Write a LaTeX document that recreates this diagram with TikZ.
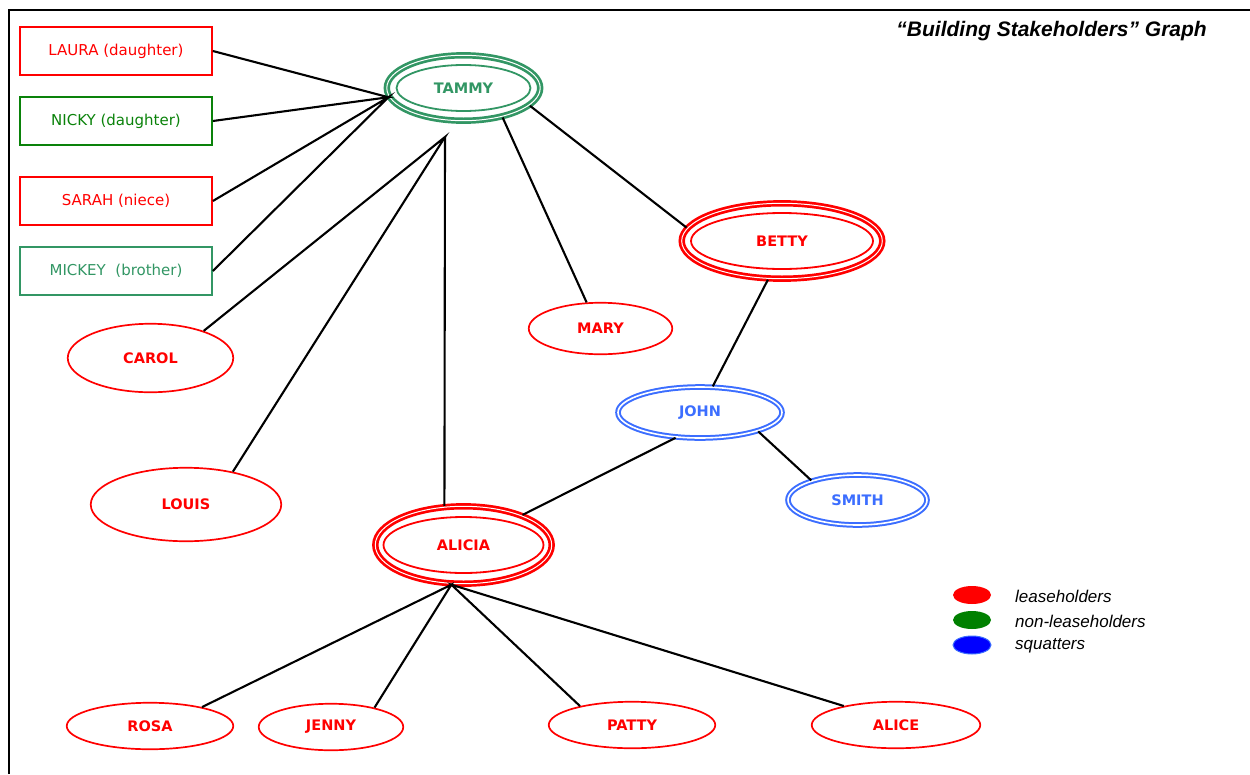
\documentclass[tikz,border=0pt]{standalone}
\usepackage{fontspec}
\setmainfont{DejaVu Sans}
\newfontfamily\arialfont{Liberation Sans}
\usetikzlibrary{shapes.geometric}
\definecolor{sgreen}{RGB}{50,150,100}
\definecolor{dgreen}{RGB}{10,130,10}
\definecolor{sblue}{RGB}{60,110,255}

\begin{document}
\begin{tikzpicture}[x=1pt,y=-1pt,inner sep=0pt,
  box/.style={draw=#1,text=#1,line width=1.7,minimum width=192,minimum height=48,font=\fontsize{15}{18}\selectfont},
  one/.style={ellipse,draw=red,text=red,line width=1.7,font=\bfseries\fontsize{14.5}{17}\selectfont},
  two/.style={ellipse,draw=#1,text=#1,double=white,double distance=1.6,line width=2,font=\bfseries\fontsize{14.5}{17}\selectfont},
  three/.style={ellipse,draw=#1,text=#1,double=white,double distance=1,line width=2.7,font=\bfseries\fontsize{14.5}{17}\selectfont},
  ring/.style={ellipse,draw=#1,line width=1.8},
  dot/.style={ellipse,minimum width=38,minimum height=18},
  key/.style={anchor=west,font=\arialfont\itshape\fontsize{17}{20}\selectfont},
  link/.style={line width=2.1}]
\useasboundingbox (0,0) rectangle (1250,774);
\draw[line width=2.6] (9,774) -- (9,10) -- (1250,10);

\node[anchor=east,font=\arialfont\bfseries\itshape\fontsize{21}{25}\selectfont] (title) at (1207,31) {“Building Stakeholders” Graph};

\node[box=red] (laura) at (116,51) {LAURA (daughter)};
\node[box=dgreen] (nicky) at (116,121) {NICKY (daughter)};
\node[box=red] (sarah) at (116,201) {SARAH (niece)};
\node[box=sgreen] (mickey) at (116,271) {MICKEY\ \ (brother)};

\node[three=sgreen,minimum width=153.4,minimum height=65.4] (tammy) at (463.5,88) {TAMMY};
\node[ring=sgreen,minimum width=134,minimum height=46] (tammyin) at (tammy) {};
\node[three=red,minimum width=200.6,minimum height=75.4] (betty) at (782,241) {BETTY};
\node[ring=red,minimum width=182,minimum height=56] (bettyin) at (betty) {};
\node[three=red,minimum width=176.4,minimum height=77.4] (alicia) at (463.5,545) {ALICIA};
\node[ring=red,minimum width=160,minimum height=56] (aliciain) at (alicia) {};

\node[two=sblue,minimum width=164,minimum height=51] (john) at (700,412.5) {JOHN};
\node[two=sblue,minimum width=139,minimum height=50] (smith) at (857.5,500) {SMITH};

\node[one,minimum width=143.5,minimum height=51.5] (mary) at (600.5,328.5) {MARY};
\node[one,minimum width=165.5,minimum height=68.5] (carol) at (150.5,358) {CAROL};
\node[one,minimum width=190.5,minimum height=73.5] (louis) at (186,504.5) {LOUIS};
\node[one,minimum width=166.5,minimum height=46.5] (rosa) at (150,726) {ROSA};
\node[one,minimum width=144.5,minimum height=46.5] (jenny) at (331,727) {JENNY};
\node[one,minimum width=166.5,minimum height=46.5] (patty) at (632,725) {PATTY};
\node[one,minimum width=168.5,minimum height=46.5] (alice) at (896,725) {ALICE};

\coordinate (tammyfoot) at (445,137);

\draw[link] (laura.east) -- (tammy.187) -- (nicky.east);
\draw[link] (sarah.east) -- (tammy.187) -- (mickey.east);
\draw[link] (carol.27) -- (tammyfoot) -- (louis.35);
\draw[link] (tammyfoot) -- (alicia.116);
\draw[link] (mary.118) -- (tammy.-37);
\draw[link] (tammy.-15) -- (betty.172);
\draw[link] (betty.250) -- (john.64);
\draw[link] (john.226) -- (alicia.27);
\draw[link] (john.-18) -- (smith.157);
\draw[link] (rosa.20) -- (alicia.253) -- (jenny.24);
\draw[link] (patty.160) -- (alicia.253) -- (alice.160);

\node[dot,fill=red] (kred) at (972,595) {};
\node[dot,fill=green!50!black] (kgreen) at (972,620) {};
\node[dot,fill=blue,draw=sblue,line width=1] (kblue) at (972,645) {};
\node[key] (tred) at (1015,596) {leaseholders};
\node[key] (tgreen) at (1015,621) {non-leaseholders};
\node[key] (tblue) at (1015,646) {squatters};
\end{tikzpicture}
\end{document}
